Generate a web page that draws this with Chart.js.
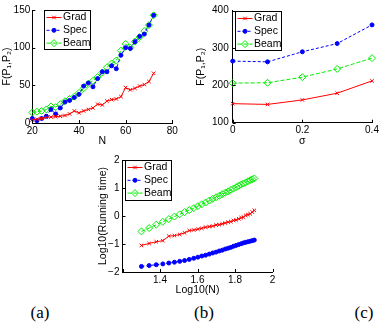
<!DOCTYPE html>
<html>
<head>
<meta charset="utf-8">
<script src="https://cdn.jsdelivr.net/npm/chart.js@4/dist/chart.umd.min.js"></script>
<style>
  html, body { margin: 0; padding: 0; background: #fff; }
  body { width: 384px; height: 323px; position: relative; overflow: hidden; }
  canvas { position: absolute; display: block; }
  .cap { position: absolute; font: 17px "Liberation Serif", "Times New Roman", serif; color: #000; transform: translate(-50%, -50%); }
</style>
</head>
<body>
<canvas id="chartA" width="190" height="150" style="left:0;top:0"></canvas>
<canvas id="chartB" width="192" height="150" style="left:192px;top:0"></canvas>
<canvas id="chartC" width="200" height="150" style="left:88px;top:150px"></canvas>
<div class="cap" style="left:40px;top:313px">(a)</div>
<div class="cap" style="left:204px;top:313px">(b)</div>
<div class="cap" style="left:364px;top:313px">(c)</div>
<script>
// values

const seriesNames = ['Grad', 'Spec', 'Beam'];

// (a) cost vs N
const nA = [20, 22, 24, 26, 28, 30, 32, 34, 36, 38, 40, 42, 44, 46, 48, 50, 52, 54, 56, 58, 60, 62, 64, 66, 68, 70, 72];
const gradA = [4, 5, 6, 7.5, 8, 8.4, 9, 10, 12, 16, 13.5, 16, 18, 20, 25, 24, 29, 31, 32, 35, 47, 44, 46, 49, 51, 55, 66];
const specA = [6, 3, 6, 9, 18, 12, 20, 28, 30, 34, 38, 49, 53, 48, 59, 68, 68, 76, 72, 90, 100, 99, 108, 115, 118, 130, 143];
const beamA = [14, 15, 16, 18, 22, 21, 25, 29, 32, 35, 40, 46, 52, 56, 61, 67, 74, 79, 83, 96, 105, 100, 108, 114, 122, 130, 143];

// (b) cost vs sigma
const sigmaB = [0, 0.1, 0.2, 0.3, 0.4];
const gradB = [151, 149, 161, 179, 212];
const specB = [265, 263, 290, 312, 362];
const beamB = [206, 207, 222, 244, 273];

// (c) log running time vs log N
const logNC = [1.301, 1.342, 1.380, 1.415, 1.447, 1.477, 1.505, 1.531, 1.556, 1.580, 1.602, 1.623, 1.643, 1.663, 1.681, 1.699,
  1.716, 1.732, 1.748, 1.763, 1.778, 1.792, 1.806, 1.820, 1.833, 1.845, 1.857, 1.869, 1.881, 1.892, 1.903];
const gradC = [-1.05, -0.98, -0.92, -0.88, -0.72, -0.70, -0.66, -0.60, -0.52, -0.50, -0.47, -0.44, -0.40, -0.38, -0.36, -0.32,
  -0.31, -0.28, -0.25, -0.22, -0.20, -0.16, -0.14, -0.10, -0.06, -0.04, 0.02, 0.05, 0.08, 0.14, 0.20];
const specC = [-1.80, -1.77, -1.74, -1.71, -1.68, -1.65, -1.62, -1.59, -1.55, -1.51, -1.47, -1.43, -1.40, -1.36, -1.32, -1.29,
  -1.25, -1.22, -1.18, -1.15, -1.12, -1.08, -1.05, -1.02, -0.99, -0.96, -0.94, -0.92, -0.90, -0.88, -0.86];
const beamC = [-0.55, -0.43, -0.31, -0.21, -0.11, -0.02, 0.06, 0.14, 0.21, 0.28, 0.35, 0.42, 0.48, 0.55, 0.61, 0.67,
  0.72, 0.78, 0.83, 0.88, 0.93, 0.98, 1.03, 1.08, 1.12, 1.16, 1.20, 1.24, 1.28, 1.31, 1.34];

const FONT = '"Liberation Sans", Arial, sans-serif';

const styles = {
  Grad: { color: '#ff0000', dash: [], point: 'crossRot', radius: 2.5, fill: '#ff0000' },
  Spec: { color: '#0000ff', dash: [3, 2], point: 'circle', radius: 2, fill: '#0000ff' },
  Beam: { color: '#00ee00', dash: [4, 2], point: 'rectRot', radius: 3.5, fill: 'rgba(0,0,0,0)' }
};

function makeDatasets(xs, ys) {
  return seriesNames.map((name, i) => {
    const s = styles[name];
    return {
      label: name,
      data: xs.map((x, j) => ({ x: x, y: ys[i][j] })),
      borderColor: s.color,
      borderWidth: 1,
      borderDash: s.dash,
      pointStyle: s.point,
      pointRadius: s.radius,
      pointBorderWidth: 1,
      pointBorderColor: s.color,
      pointBackgroundColor: s.fill,
      tension: 0,
      clip: false
    };
  });
}

// MATLAB style ticks pointing into the plot
const innerTicks = {
  id: 'innerTicks',
  afterDatasetsDraw(chart) {
    const { ctx, chartArea: a, scales: { x, y } } = chart;
    ctx.save();
    ctx.strokeStyle = '#000';
    ctx.lineWidth = 1;
    ctx.beginPath();
    x.ticks.forEach(t => {
      const px = Math.round(x.getPixelForValue(t.value)) + 0.5;
      ctx.moveTo(px, a.bottom); ctx.lineTo(px, a.bottom - 3);
    });
    y.ticks.forEach(t => {
      const py = Math.round(y.getPixelForValue(t.value)) + 0.5;
      ctx.moveTo(a.left, py); ctx.lineTo(a.left + 3, py);
    });
    ctx.stroke();
    ctx.restore();
  }
};

// boxed legend inside the axes, line sample with marker
const boxLegend = {
  id: 'boxLegend',
  afterDraw(chart, args, opts) {
    const { ctx, chartArea: a } = chart;
    const bx = Math.round(a.left + opts.dx), by = Math.round(a.top + opts.dy);
    ctx.save();
    ctx.fillStyle = '#fff';
    ctx.fillRect(bx, by, opts.w, opts.h);
    ctx.strokeStyle = '#000';
    ctx.lineWidth = 1;
    ctx.strokeRect(bx + 0.5, by + 0.5, opts.w, opts.h);
    ctx.font = '10.5px ' + FONT;
    ctx.textBaseline = 'middle';
    chart.data.datasets.forEach((ds, i) => {
      const yy = by + 7.5 + i * 12.8;
      ctx.strokeStyle = ds.borderColor;
      ctx.lineWidth = 1;
      ctx.setLineDash(ds.borderDash);
      ctx.beginPath();
      ctx.moveTo(bx + 2.5, yy); ctx.lineTo(bx + 17.5, yy);
      ctx.stroke();
      ctx.setLineDash([]);
      ctx.fillStyle = ds.pointBackgroundColor;
      Chart.helpers.drawPoint(ctx, { pointStyle: ds.pointStyle, radius: ds.pointRadius, borderWidth: 1, rotation: 0 }, bx + 10, yy);
      ctx.fillStyle = '#000';
      ctx.fillText(ds.label, bx + 19, yy);
    });
    ctx.restore();
  }
};

function fmt(v) { return String(+(+v).toFixed(1)).replace('-', '\u2212'); }

function makeChart(id, cfg) {
  return new Chart(document.getElementById(id), {
    type: 'line',
    data: { datasets: makeDatasets(cfg.xs, cfg.ys) },
    options: {
      responsive: false,
      animation: false,
      devicePixelRatio: 1,
      layout: { padding: cfg.pad },
      plugins: { legend: { display: false }, tooltip: { enabled: false }, boxLegend: cfg.legend },
      scales: {
        x: {
          type: 'linear',
          min: cfg.x.min, max: cfg.x.max,
          grid: { display: false, drawTicks: false },
          border: { display: true, color: '#000', width: 1 },
          ticks: {
            stepSize: cfg.x.step, padding: 2, color: '#000', maxRotation: 0,
            font: { family: FONT, size: 10 },
            callback: v => (cfg.x.hide === v ? '' : fmt(v))
          },
          title: { display: true, text: cfg.x.title, color: '#000', font: { family: FONT, size: 10.5 }, padding: { top: 0, bottom: cfg.x.tpad } },
          afterFit: s => { s.height = cfg.x.h; }
        },
        y: {
          min: cfg.y.min, max: cfg.y.max,
          grid: { display: false, drawTicks: false },
          border: { display: true, color: '#000', width: 1 },
          ticks: {
            stepSize: cfg.y.step, padding: cfg.y.lpad, color: '#000',
            font: { family: FONT, size: 10 },
            callback: v => fmt(v)
          },
          title: { display: true, text: cfg.y.title, color: '#000', font: { family: FONT, size: 10.5 }, padding: { top: cfg.y.tpad, bottom: 0 } },
          afterFit: s => { s.width = cfg.y.w; }
        }
      }
    },
    plugins: [innerTicks, boxLegend]
  });
}

makeChart('chartA', {
  xs: nA, ys: [gradA, specA, beamA],
  pad: { left: 0, top: 10, right: 17.7, bottom: 0 },
  legend: { dx: 12, dy: 0, w: 46, h: 39 },
  x: { min: 20, max: 80, step: 20, title: 'N', h: 27, tpad: 3 },
  y: { min: 0, max: 150, step: 50, title: 'F(P\u2081,P\u2082)', w: 32.3, tpad: 0.7, lpad: 2 }
});

makeChart('chartB', {
  xs: sigmaB, ys: [gradB, specB, beamB],
  pad: { left: 0, top: 10.7, right: 12, bottom: 0 },
  legend: { dx: 2, dy: 0, w: 46, h: 39 },
  x: { min: 0, max: 0.4, step: 0.2, title: '\u03c3', h: 27.3, tpad: 3 },
  y: { min: 100, max: 400, step: 100, title: 'F(P\u2081,P\u2082)', w: 40.7, tpad: 3.2, lpad: 4 }
});

makeChart('chartC', {
  xs: logNC, ys: [gradC, specC, beamC],
  pad: { left: 0, top: 10, right: 15.5, bottom: 0 },
  legend: { dx: 2.5, dy: 0, w: 46, h: 40 },
  x: { min: 1.2, max: 2, step: 0.2, title: 'Log10(N)', h: 28, tpad: 3.7, hide: 1.2 },
  y: { min: -2, max: 2, step: 1, title: 'Log10(Running time)', w: 34.5, tpad: 9.2, lpad: 3 }
});
</script>
</body>
</html>
